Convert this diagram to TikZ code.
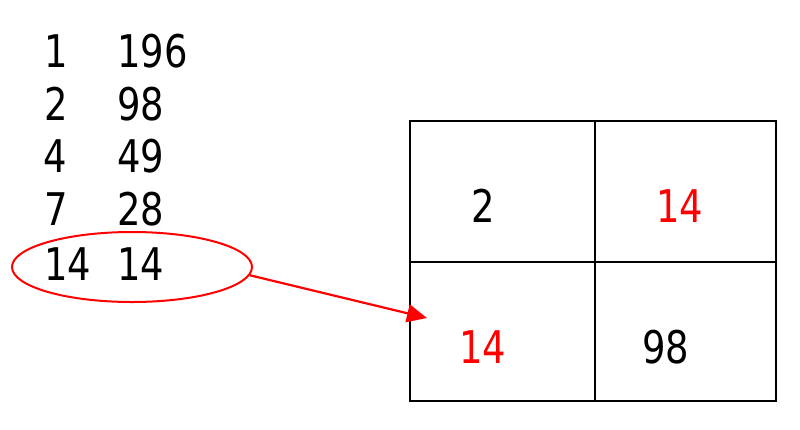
\documentclass[tikz,border=0pt]{standalone}
\usepackage{fontspec}
\setmainfont{DejaVu Sans}[FakeStretch=0.82]
\usetikzlibrary{shapes.geometric,arrows.meta}
\definecolor{pured}{RGB}{255,0,0}
\begin{document}
\begin{tikzpicture}[x=1pt,y=-1pt,
  num/.style={anchor=base west,inner sep=0pt,font=\fontsize{45}{50}\selectfont},
  cell/.style={draw=black,line width=2.2pt,minimum width=185pt,minimum height=141pt,inner sep=0pt,anchor=north west},
  hl/.style={text=pured}]
\useasboundingbox (0,0) rectangle (800,429);
% left table
\node[num] (a1) at (44,67) {1};
\node[num] (b1) at (117,67) {196};
\node[num] (a2) at (44,120) {2};
\node[num] (b2) at (117,120) {98};
\node[num] (a3) at (43,172) {4};
\node[num] (b3) at (117,172) {49};
\node[num] (a4) at (44,225) {7};
\node[num] (b4) at (117,225) {28};
\node[num] (a5) at (44,280) {14};
\node[num] (b5) at (117,280) {14};
% ellipse
\node[draw=pured,line width=2pt,ellipse,minimum width=240pt,minimum height=70pt,inner sep=0pt] (ell) at (132,267) {};
% grid
\node[cell] (c11) at (409,120) {};
\node[cell,minimum width=181pt] (c12) at (594,120) {};
\node[cell,minimum height=139pt] (c21) at (409,261) {};
\node[cell,minimum width=181pt,minimum height=139pt] (c22) at (594,261) {};
\node[num] (t11) at (471,222) {2};
\node[num,hl] (t12) at (656,222) {14};
\node[num,hl] (t21) at (459,363) {14};
\node[num] (t22) at (642,363) {98};
% arrow
\coordinate (tip) at (427,318);
\draw[pured,line width=2.2pt,-{Triangle[length=20pt,width=18pt]}] (ell.-4) -- (tip);
\end{tikzpicture}
\end{document}
